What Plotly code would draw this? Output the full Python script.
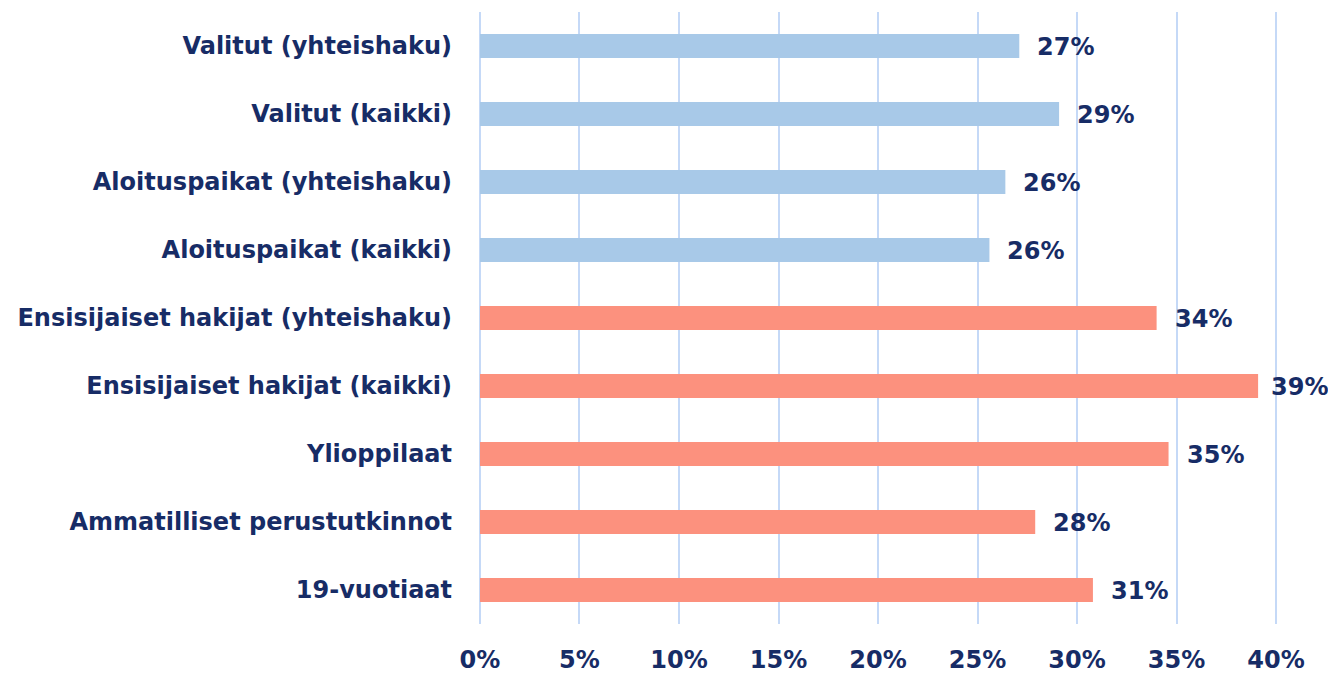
import plotly.graph_objects as go

categories = [
    "Valitut (yhteishaku)",
    "Valitut (kaikki)",
    "Aloituspaikat (yhteishaku)",
    "Aloituspaikat (kaikki)",
    "Ensisijaiset hakijat (yhteishaku)",
    "Ensisijaiset hakijat (kaikki)",
    "Ylioppilaat",
    "Ammatilliset perustutkinnot",
    "19-vuotiaat",
]
values = [27.1, 29.1, 26.4, 25.6, 34.0, 39.1, 34.6, 27.9, 30.8]
labels = ["27%", "29%", "26%", "26%", "34%", "39%", "35%", "28%", "31%"]
groups = ["blue", "blue", "blue", "blue", "red", "red", "red", "red", "red"]
tick_vals = [0, 5, 10, 15, 20, 25, 30, 35, 40]
tick_text = ["0%", "5%", "10%", "15%", "20%", "25%", "30%", "35%", "40%"]

color_map = {"blue": "#a8c9e8", "red": "#fc917e"}
navy = "#172c66"
font_family = "DejaVu Sans"
fsize = 24

fig = go.Figure(
    go.Bar(
        x=values,
        y=categories,
        orientation="h",
        marker=dict(color=[color_map[g] for g in groups], line=dict(width=0)),
        hoverinfo="skip",
    )
)

for v, c, t in zip(values, categories, labels):
    fig.add_annotation(
        x=v, y=c, text=t, showarrow=False, xanchor="left",
        xshift=11 if v > 38 else 16, yshift=-1,
        font=dict(family=font_family, size=fsize, color=navy, weight="bold"),
    )

fig.update_layout(
    width=1328,
    height=675,
    margin=dict(l=478, r=50, t=12, b=51, autoexpand=False),
    plot_bgcolor="white",
    paper_bgcolor="white",
    bargap=0.65,
    showlegend=False,
    font=dict(family=font_family, color=navy),
)
fig.update_xaxes(
    range=[-0.1, 40.1],
    tickvals=tick_vals,
    ticktext=tick_text,
    showgrid=True,
    gridcolor="#c5d9f7",
    gridwidth=2,
    zeroline=False,
    showline=False,
    ticks="",
    automargin=False,
    ticklabelstandoff=19,
    tickfont=dict(family=font_family, size=fsize, color=navy, weight="bold"),
)
fig.update_yaxes(
    categoryorder="array",
    categoryarray=categories[::-1],
    showgrid=False,
    zeroline=False,
    showline=False,
    ticks="",
    automargin=False,
    ticklabelstandoff=25,
    tickfont=dict(family=font_family, size=fsize, color=navy, weight="bold"),
)

fig.write_html(
    "out.html",
    config={"displayModeBar": False},
    post_script="document.body.style.margin='0';document.body.style.overflow='hidden';",
)
